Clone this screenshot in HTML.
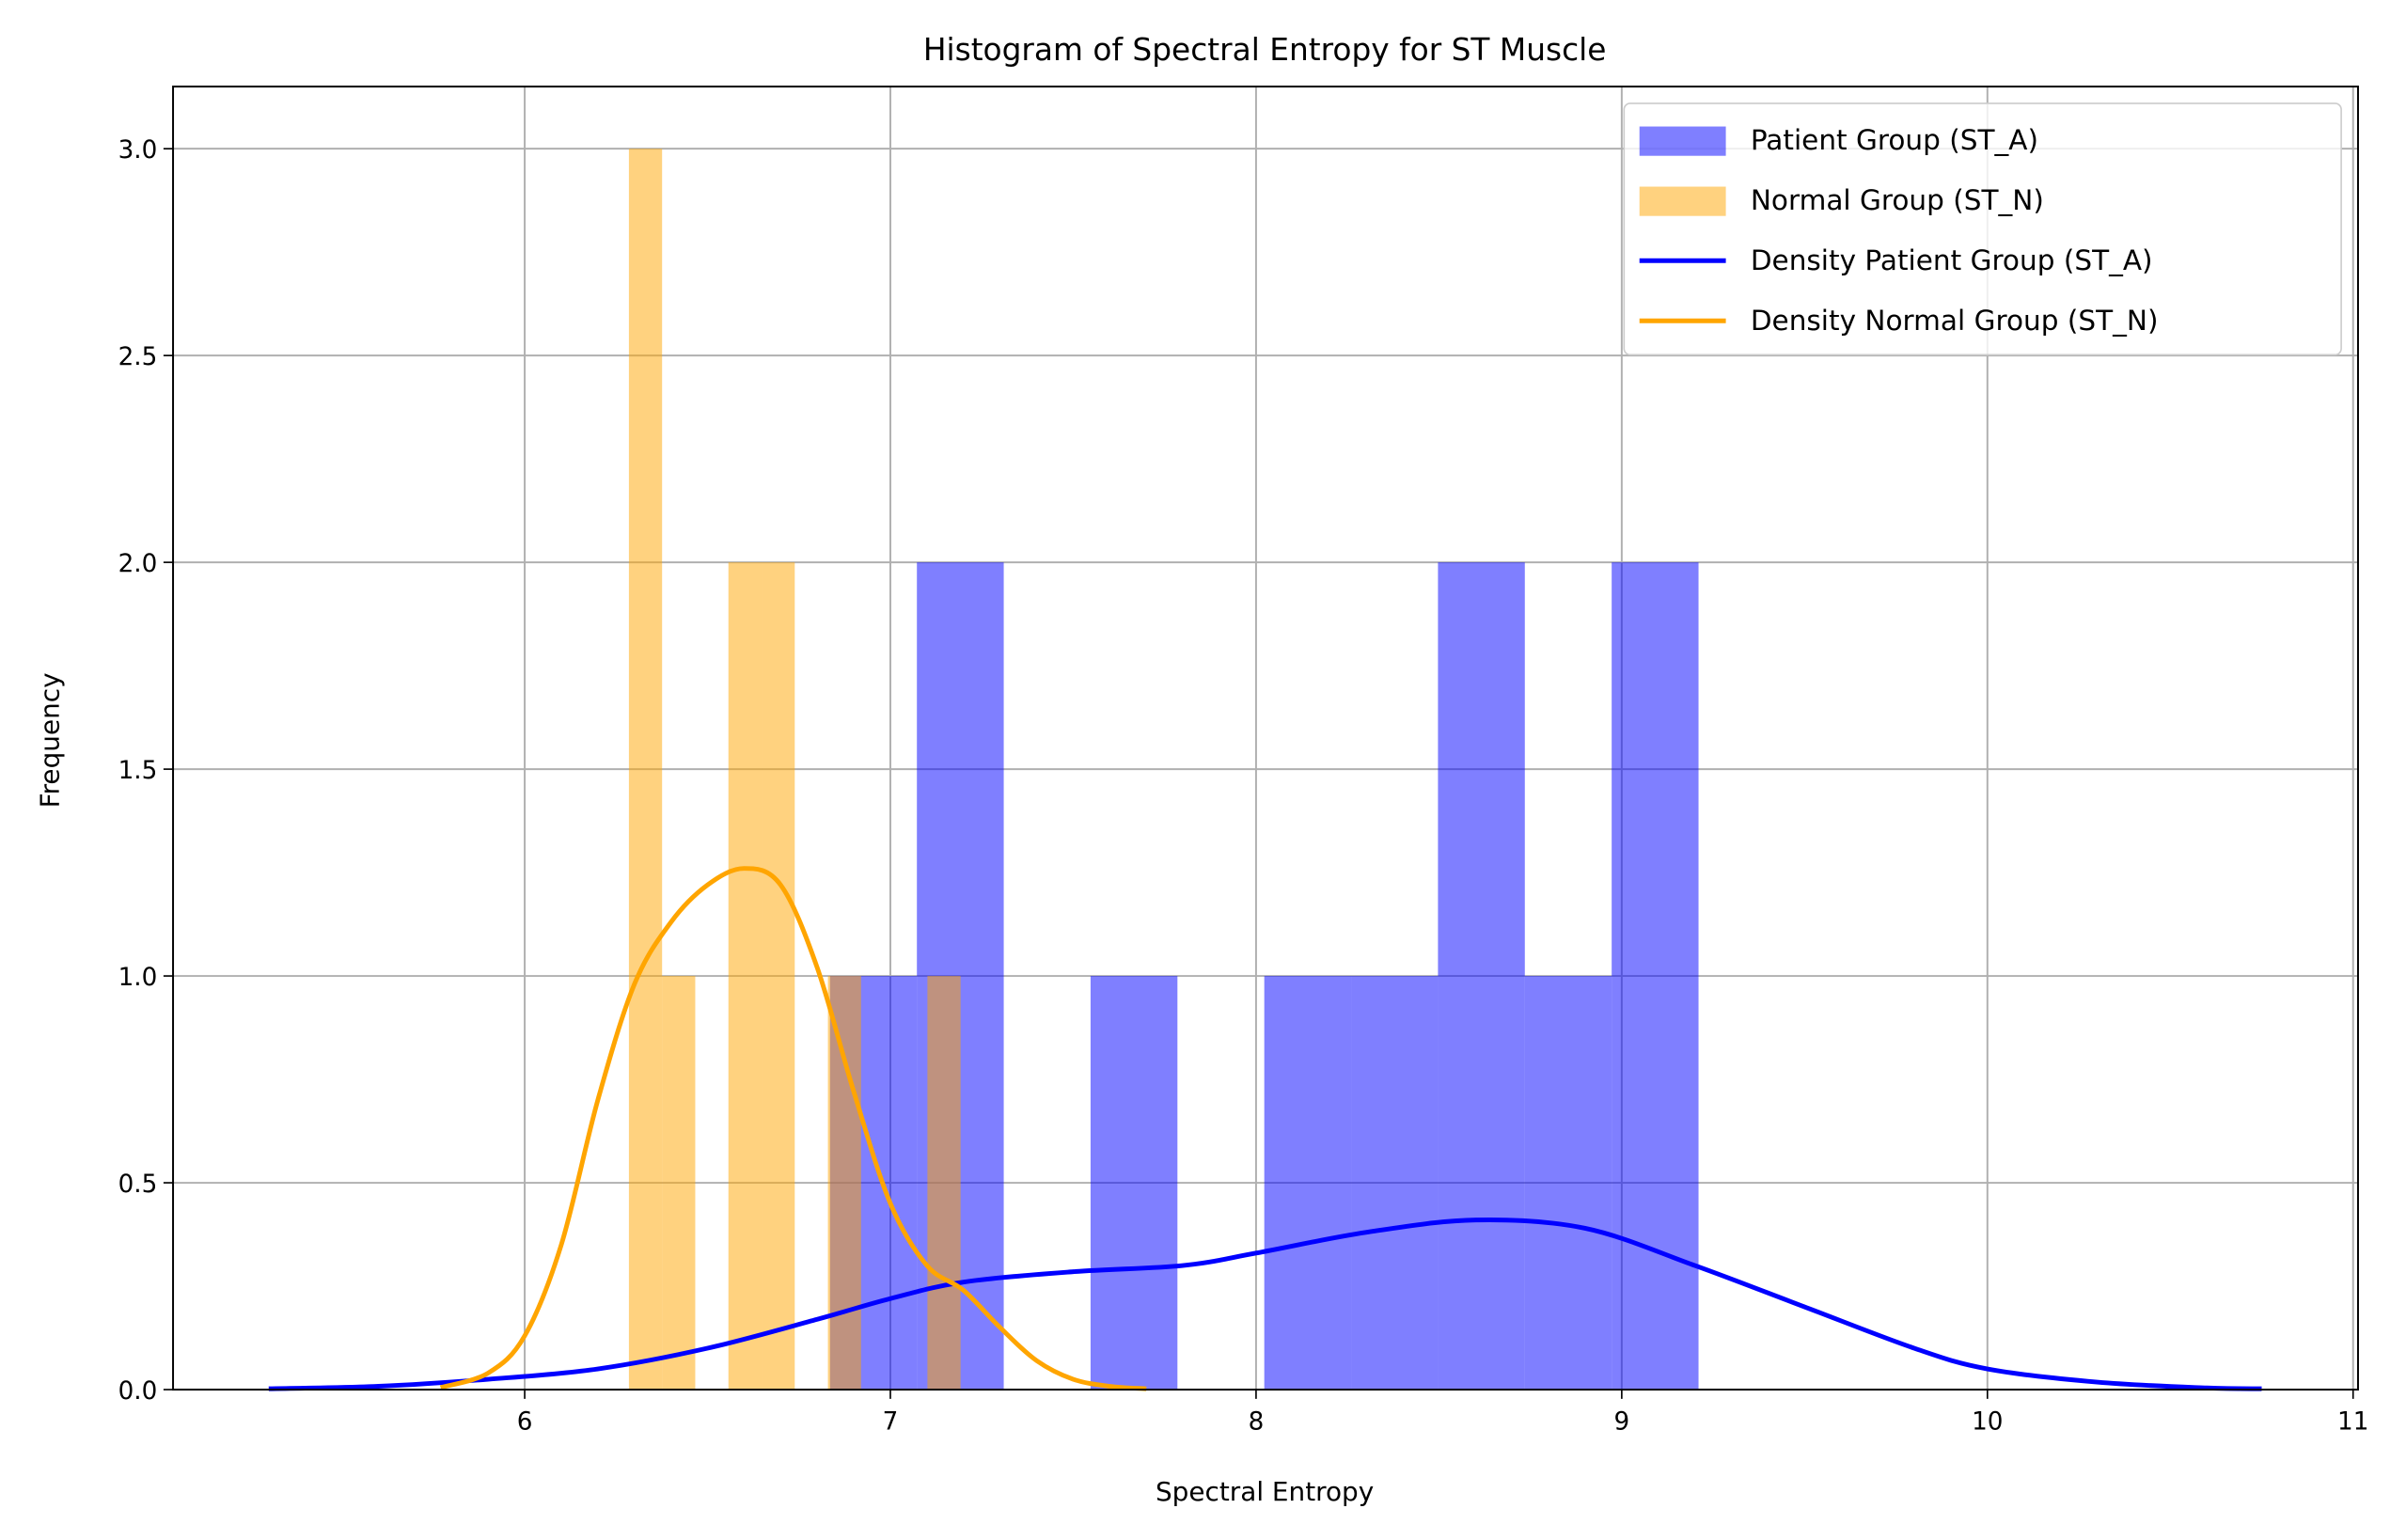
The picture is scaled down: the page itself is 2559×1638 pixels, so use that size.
<!DOCTYPE html>
<html><head><meta charset="utf-8"><style>
html,body{margin:0;padding:0;background:#fff;}
svg{display:block;font-family:"DejaVu Sans","Liberation Sans",sans-serif;}
</style></head><body>
<svg id="chart" width="2559" height="1638" viewBox="0 0 1560 998.5" xmlns="http://www.w3.org/2000/svg">
<rect width="1560" height="998.5" fill="#fff"/>
<g id="grid"></g>
<g id="bars"></g>
<g id="curves"></g>
<rect x="112.2" y="56.1" width="1416.7" height="844.9" fill="none" stroke="#000" stroke-width="1.2"/>
<g id="ticks" font-size="16" fill="#000"></g>
<text x="820" y="39" text-anchor="middle" font-size="20">Histogram of Spectral Entropy for ST Muscle</text>
<text x="820" y="973" text-anchor="middle" font-size="17">Spectral Entropy</text>
<text transform="translate(38,480) rotate(-90)" text-anchor="middle" font-size="17">Frequency</text>
<g>
<rect x="1053" y="67" width="465" height="163" rx="4" fill="#fff" fill-opacity="0.8" stroke="#ccc"/>
<rect x="1063" y="82" width="56" height="19" fill="#0000ff" fill-opacity="0.5"/>
<text x="1135" y="97" font-size="18">Patient Group (ST_A)</text>
<rect x="1063" y="121" width="56" height="19" fill="#ffa500" fill-opacity="0.5"/>
<text x="1135" y="136" font-size="18">Normal Group (ST_N)</text>
<line x1="1063" x2="1119" y1="169" y2="169" stroke="#0000ff" stroke-width="3"/>
<text x="1135" y="175" font-size="18">Density Patient Group (ST_A)</text>
<line x1="1063" x2="1119" y1="208" y2="208" stroke="#ffa500" stroke-width="3"/>
<text x="1135" y="214" font-size="18">Density Normal Group (ST_N)</text>
</g>
</svg>
<script>
const patientCounts=[1,2,0,1,0,1,1,2,1,2];
const patientRange=[6.835,9.21];
const normalCounts=[3,1,0,2,2,0,1,0,0,1];
const normalRange=[6.285,7.192];
const xTicks=[6,7,8,9,10,11];
const yTicks=[0,0.5,1.0,1.5,2.0,2.5,3.0];
const orangeX=[5.77,5.9,6.0,6.1,6.2,6.3,6.4,6.5,6.6,6.7,6.8,6.9,7.0,7.1,7.2,7.3,7.4,7.5,7.6,7.7];
const orangeY=[0.005,0.04,0.13,0.35,0.7,0.98,1.13,1.22,1.26,1.22,1.02,0.72,0.45,0.3,0.24,0.15,0.07,0.025,0.008,0.002];
const blueX=[5.3,5.6,5.9,6.2,6.5,6.8,7.0,7.2,7.5,7.8,8.0,8.3,8.6,8.9,9.2,9.5,9.8,10.0,10.3,10.6,10.75];
const blueY=[0.002,0.008,0.025,0.05,0.1,0.17,0.22,0.26,0.285,0.3,0.33,0.38,0.41,0.39,0.3,0.2,0.1,0.05,0.018,0.004,0.002];
const NS="http://www.w3.org/2000/svg";
const X=v=>340.2+(v-6)*237.1, Y=v=>901-v*268.2;
function mk(t,a,p){const e=document.createElementNS(NS,t);for(const k in a)e.setAttribute(k,a[k]);p.appendChild(e);return e;}
const grid=document.getElementById('grid'),ticks=document.getElementById('ticks');
xTicks.forEach(t=>{
 const l=mk('line',{x1:X(t),x2:X(t),y1:56.1,y2:901,stroke:'#b0b0b0','stroke-width':1.2},grid);
 
 
 mk('line',{x1:X(t),x2:X(t),y1:901,y2:907,stroke:'#000'},ticks);
 const tx=mk('text',{x:X(t),y:927,'text-anchor':'middle'},ticks);tx.textContent=t;
 
 
});
yTicks.forEach(t=>{
 const l=mk('line',{x1:112.2,x2:1528.9,y1:Y(t),y2:Y(t),stroke:'#b0b0b0','stroke-width':1.2},grid);
 
 
 mk('line',{x1:106,x2:112.2,y1:Y(t),y2:Y(t),stroke:'#000'},ticks);
 const tx=mk('text',{x:102,y:Y(t)+6,'text-anchor':'end'},ticks);tx.textContent=t.toFixed(1);
 
 
});
const bars=document.getElementById('bars');
function hist(counts,range,color,name){
 const w=(range[1]-range[0])/counts.length;
 counts.forEach((c,i)=>{ if(!c)return;
  const r=mk('rect',{x:X(range[0]+i*w),y:Y(c),width:X(range[0]+(i+1)*w)-X(range[0]+i*w),height:Y(0)-Y(c),fill:color,'fill-opacity':0.5},bars);
  
  
 });
}
hist(patientCounts,patientRange,'#0000ff','patient-bar');
hist(normalCounts,normalRange,'#ffa500','normal-bar');
const curves=document.getElementById('curves');
function line(xs,ys,color,name){
 const P=xs.map((x,i)=>[X(x),Y(ys[i])]);
 let d='M'+P[0][0]+','+P[0][1];
 for(let i=0;i<P.length-1;i++){
  const p0=P[Math.max(0,i-1)],p1=P[i],p2=P[i+1],p3=P[Math.min(P.length-1,i+2)];
  const c1=[p1[0]+(p2[0]-p0[0])/6,p1[1]+(p2[1]-p0[1])/6];
  const c2=[p2[0]-(p3[0]-p1[0])/6,p2[1]-(p3[1]-p1[1])/6];
  d+=' C'+c1+' '+c2+' '+p2;
 }
 const p=mk('path',{d:d,fill:'none',stroke:color,'stroke-width':3,'stroke-linejoin':'round'},curves);
 
 
}
line(blueX,blueY,'#0000ff','density-patient-line');
line(orangeX,orangeY,'#ffa500','density-normal-line');
</script>
</body></html>
